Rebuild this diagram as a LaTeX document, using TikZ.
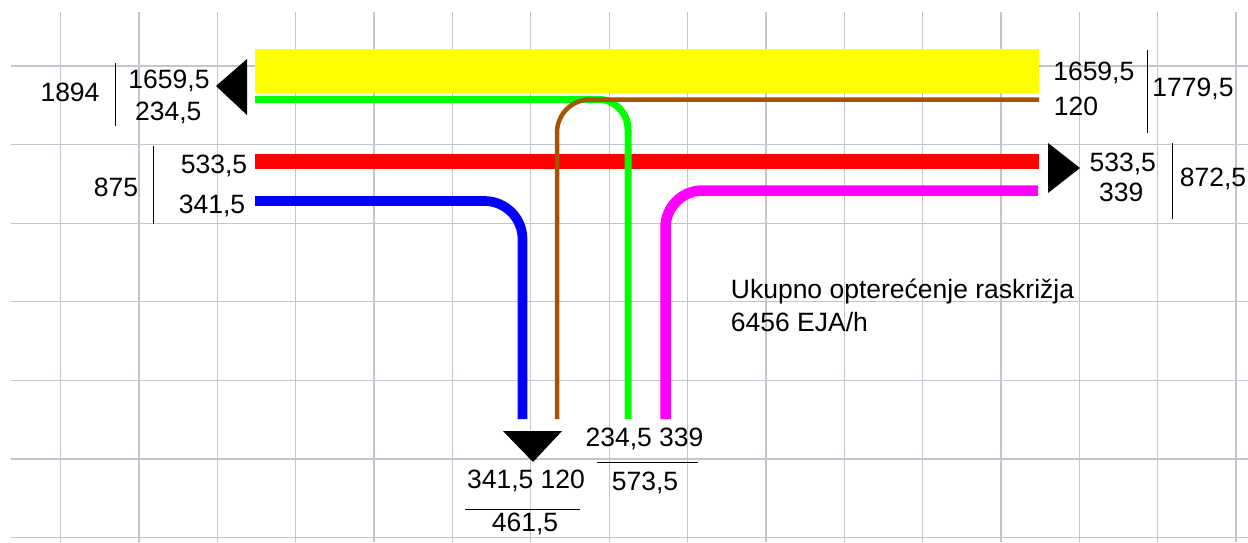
\documentclass[tikz,border=0pt]{standalone}
\usepackage{fontspec}
\setmainfont{Liberation Sans}
\definecolor{gridc}{RGB}{196,196,208}
\definecolor{brownc}{RGB}{166,84,0}
\definecolor{greenc}{RGB}{0,255,0}
\definecolor{yellowc}{RGB}{255,255,0}
\definecolor{magc}{RGB}{255,0,255}
\definecolor{redc}{RGB}{255,0,0}
\definecolor{bluec}{RGB}{0,0,255}
\begin{document}
\begin{tikzpicture}[x=1pt,y=-1pt,
  lbl/.style={anchor=base,inner sep=0pt,font=\fontsize{26.5}{33.4}\selectfont},
  sep/.style={black,line width=1.2pt},
  arrowhead/.style={fill=black,draw=none},
  gridline/.style={gridc,line width=1.3pt}]
\useasboundingbox (0,0) rectangle (1248,542);
\fill[white] (0,0) rectangle (1248,542);
% grid
\foreach \i in {0,...,15}
  \draw[gridline] ({60.7+78.35*\i},12) -- ({60.7+78.35*\i},542);
\foreach \j in {0,...,6}
  \draw[gridline] (11,{66+78.6*\j}) -- (1248,{66+78.6*\j});
% coordinates
\coordinate (yl) at (255,49);
\coordinate (yr) at (1039,93);
\coordinate (gS) at (255,99.3);
\coordinate (gC) at (628,99.3);
\coordinate (gE) at (628,419);
\coordinate (bS) at (557,419);
\coordinate (bC) at (557,99.5);
\coordinate (bE) at (1039,99.5);
\coordinate (rS) at (255,161.7);
\coordinate (rE) at (1039,161.7);
\coordinate (blS) at (255,201);
\coordinate (blC) at (522.5,201);
\coordinate (blE) at (522.5,419);
\coordinate (mS) at (1038,190.5);
\coordinate (mC) at (665.5,190.5);
\coordinate (mE) at (665.5,419);
% bands
\fill[yellowc] (yl) rectangle (yr);
\draw[redc,line width=14.7pt] (rS) -- (rE);
\draw[bluec,line width=9.7pt,rounded corners=38pt] (blS) -- (blC) -- (blE);
\draw[magc,line width=10.5pt,rounded corners=37pt] (mS) -- (mC) -- (mE);
\draw[greenc,line width=7pt,rounded corners=30pt] (gS) -- (gC) -- (gE);
\draw[brownc,line width=4.5pt,rounded corners=33pt] (bS) -- (bC) -- (bE);
% arrowheads
\fill[arrowhead] (216,86) -- (247,59) -- (247,115) -- cycle;
\fill[arrowhead] (1080,168) -- (1048,143) -- (1048,193) -- cycle;
\fill[arrowhead] (503,431) -- (562,431) -- (533,462) -- cycle;
% left labels
\node[lbl] (l1894) at (70,101.7) {1894};
\draw[sep] (115.7,63.3) -- (115.7,126);
\node[lbl] (lw1) at (169,88.3) {1659,5};
\node[lbl] (lw2) at (168.3,120.7) {234,5};
\node[lbl] (l875) at (116,196.7) {875};
\draw[sep] (153.7,145.7) -- (153.7,224);
\node[lbl] (le1) at (214,173.3) {533,5};
\node[lbl] (le2) at (212,213.3) {341,5};
% right labels
\node[lbl] (rw1) at (1093.8,80) {1659,5};
\node[lbl] (rw2) at (1076,115) {120};
\draw[sep] (1147.7,50) -- (1147.7,133.3);
\node[lbl] (r1779) at (1193,96.7) {1779,5};
\node[lbl] (re1) at (1122.7,171.7) {533,5};
\node[lbl] (re2) at (1121.3,201.7) {339};
\draw[sep] (1172.7,143.3) -- (1172.7,219.3);
\node[lbl] (r872) at (1213,186.7) {872,5};
% bottom labels
\node[lbl] (bin) at (644.5,446.7) {234,5 339};
\draw[sep] (596.7,462.7) -- (697.7,462.7);
\node[lbl] (bint) at (645,490) {573,5};
\node[lbl] (bout) at (526,488.3) {341,5 120};
\draw[sep] (465,509.3) -- (580.3,509.3);
\node[lbl] (boutt) at (525,531.7) {461,5};
% total
\node[anchor=base west,inner sep=0pt,font=\fontsize{26.5}{33.4}\selectfont] (tot) at (730.7,298.3) {Ukupno opterećenje raskrižja};
\node[anchor=base west,inner sep=0pt,font=\fontsize{26.5}{33.4}\selectfont] (tot2) at (730.7,331.7) {6456 EJA/h};
\end{tikzpicture}
\end{document}
